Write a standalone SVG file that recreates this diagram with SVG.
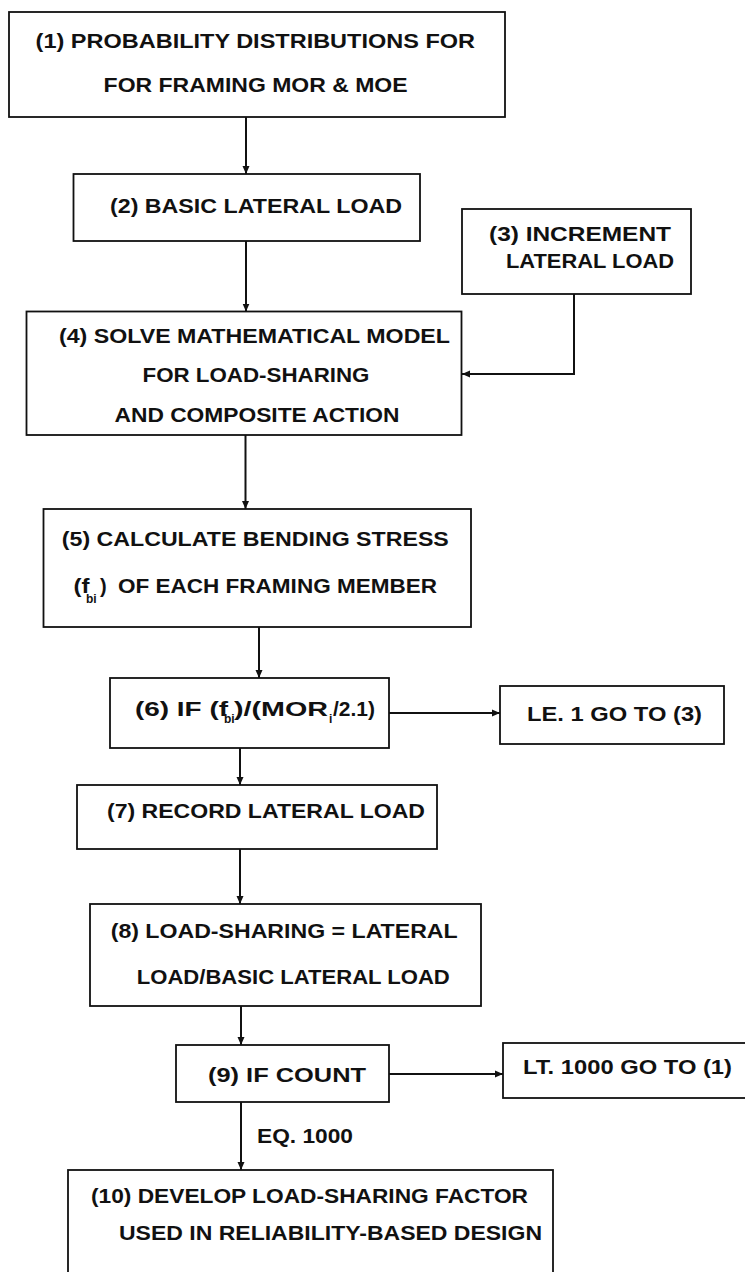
<svg xmlns="http://www.w3.org/2000/svg" width="745" height="1272" viewBox="0 0 745 1272">
<style>
.box{fill:#fff;stroke:#111;stroke-width:1.8}
.t{font-family:"Liberation Sans",Arial,sans-serif;font-weight:bold;font-size:20px;fill:#111}
.s{font-family:"Liberation Sans",Arial,sans-serif;font-weight:bold;font-size:12px;fill:#111}
.c{fill:none;stroke:#111;stroke-width:2}
</style>
<defs>
<marker id="ah" markerUnits="userSpaceOnUse" markerWidth="8" markerHeight="8" refX="8" refY="4" orient="auto">
<path d="M0,0.5 L8,4 L0,7.5 z" fill="#111"/>
</marker>
</defs>
<rect width="745" height="1272" fill="#fff"/>
<g id="connectors">
<path class="c" d="M246,117 V174" marker-end="url(#ah)"/>
<path class="c" d="M246,241 V311.5" marker-end="url(#ah)"/>
<path class="c" d="M574,294 V374 H462" marker-end="url(#ah)"/>
<path class="c" d="M245.5,435 V509" marker-end="url(#ah)"/>
<path class="c" d="M259,627 V678" marker-end="url(#ah)"/>
<path class="c" d="M389,713 H500" marker-end="url(#ah)"/>
<path class="c" d="M240,748 V785" marker-end="url(#ah)"/>
<path class="c" d="M240,849 V904" marker-end="url(#ah)"/>
<path class="c" d="M241,1006 V1045" marker-end="url(#ah)"/>
<path class="c" d="M389,1074 H503" marker-end="url(#ah)"/>
<path class="c" d="M241,1102 V1170" marker-end="url(#ah)"/>
<text class="t" x="257" y="1143" textLength="96" lengthAdjust="spacingAndGlyphs">EQ. 1000</text>
</g>
<g id="n1">
<rect class="box" x="9" y="12" width="496" height="105"/>
<text class="t" x="35.6" y="48" textLength="439.4" lengthAdjust="spacingAndGlyphs">(1)  PROBABILITY DISTRIBUTIONS FOR</text>
<text class="t" x="103.6" y="92" textLength="304" lengthAdjust="spacingAndGlyphs">FOR FRAMING MOR &amp; MOE</text>
</g>
<g id="n2">
<rect class="box" x="73.5" y="174" width="346.5" height="67"/>
<text class="t" x="110" y="213" textLength="292" lengthAdjust="spacingAndGlyphs">(2)  BASIC LATERAL LOAD</text>
</g>
<g id="n3">
<rect class="box" x="462" y="209" width="229" height="85"/>
<text class="t" x="489" y="241" textLength="182" lengthAdjust="spacingAndGlyphs">(3)  INCREMENT</text>
<text class="t" x="506" y="268" textLength="168" lengthAdjust="spacingAndGlyphs">LATERAL LOAD</text>
</g>
<g id="n4">
<rect class="box" x="26.5" y="311.5" width="435" height="123.5"/>
<text class="t" x="59" y="343" textLength="391" lengthAdjust="spacingAndGlyphs">(4)  SOLVE MATHEMATICAL MODEL</text>
<text class="t" x="142.5" y="382" textLength="227" lengthAdjust="spacingAndGlyphs">FOR LOAD-SHARING</text>
<text class="t" x="114.5" y="422" textLength="285" lengthAdjust="spacingAndGlyphs">AND COMPOSITE ACTION</text>
</g>
<g id="n5">
<rect class="box" x="43.5" y="509" width="427.5" height="118"/>
<text class="t" x="61.8" y="546" textLength="387" lengthAdjust="spacingAndGlyphs">(5)  CALCULATE BENDING STRESS</text>
<text class="t" x="73.5" y="593" textLength="16" lengthAdjust="spacingAndGlyphs">(f</text>
<text class="s" x="86" y="603">bi</text>
<text class="t" x="100" y="593">)</text>
<text class="t" x="118" y="593" textLength="319" lengthAdjust="spacingAndGlyphs">OF EACH FRAMING MEMBER</text>
</g>
<g id="n6">
<rect class="box" x="110" y="678" width="279" height="70"/>
<text class="t" x="135" y="716" textLength="93" lengthAdjust="spacingAndGlyphs">(6)  IF (f</text>
<text class="s" x="224" y="723">bi</text>
<text class="t" x="234" y="716" textLength="94" lengthAdjust="spacingAndGlyphs">)/(MOR</text>
<text class="s" x="329" y="723">i</text>
<text class="t" x="333" y="716" textLength="42" lengthAdjust="spacingAndGlyphs">/2.1)</text>
</g>
<g id="n6b">
<rect class="box" x="500" y="686" width="224" height="58"/>
<text class="t" x="527" y="721" textLength="175" lengthAdjust="spacingAndGlyphs">LE. 1 GO TO (3)</text>
</g>
<g id="n7">
<rect class="box" x="77" y="785" width="360" height="64"/>
<text class="t" x="107" y="818" textLength="318" lengthAdjust="spacingAndGlyphs">(7)  RECORD LATERAL LOAD</text>
</g>
<g id="n8">
<rect class="box" x="90" y="904" width="391" height="102"/>
<text class="t" x="110.7" y="938" textLength="347" lengthAdjust="spacingAndGlyphs">(8)  LOAD-SHARING = LATERAL</text>
<text class="t" x="136.8" y="984" textLength="313" lengthAdjust="spacingAndGlyphs">LOAD/BASIC LATERAL LOAD</text>
</g>
<g id="n9">
<rect class="box" x="176" y="1045" width="213" height="57"/>
<text class="t" x="208" y="1082" textLength="158" lengthAdjust="spacingAndGlyphs">(9)  IF COUNT</text>
</g>
<g id="n9b">
<rect class="box" x="503" y="1043" width="250" height="55"/>
<text class="t" x="523" y="1074" textLength="209" lengthAdjust="spacingAndGlyphs">LT. 1000 GO TO (1)</text>
</g>
<g id="n10">
<rect class="box" x="68" y="1170" width="485" height="110"/>
<text class="t" x="91" y="1203" textLength="437" lengthAdjust="spacingAndGlyphs">(10)  DEVELOP LOAD-SHARING FACTOR</text>
<text class="t" x="119" y="1240" textLength="423" lengthAdjust="spacingAndGlyphs">USED IN RELIABILITY-BASED DESIGN</text>
</g>
</svg>
